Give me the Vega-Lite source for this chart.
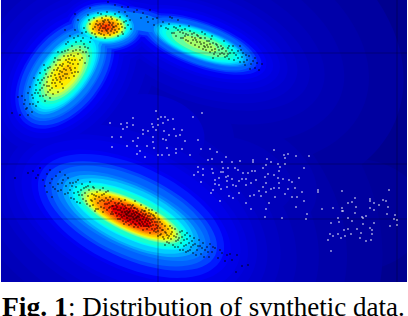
{"$schema":"https://vega.github.io/schema/vega-lite/v6.json","width":406,"height":282,"autosize":{"type":"none"},"padding":{"left":1,"top":0,"right":1,"bottom":34},"background":"white","view":{"fill":"#00008f","stroke":null},
"datasets":{
"density":[
{"x":355,"y":215,"a":70,"r":0.8,"t":0,"v":0.012},
{"x":131,"y":216,"a":260,"r":0.8,"t":25,"v":0.02},{"x":106,"y":27,"a":130,"r":0.9,"t":0,"v":0.02},{"x":65,"y":73,"a":210,"r":0.9,"t":-52,"v":0.02},{"x":200,"y":44,"a":210,"r":0.7,"t":20,"v":0.02},
{"x":131,"y":216,"a":225,"r":0.75,"t":25,"v":0.03},{"x":106,"y":27,"a":105,"r":0.9,"t":0,"v":0.03},{"x":65,"y":73,"a":170,"r":0.85,"t":-52,"v":0.03},{"x":200,"y":44,"a":175,"r":0.65,"t":20,"v":0.03},
{"x":131,"y":216,"a":197,"r":0.7,"t":25,"v":0.04},{"x":106,"y":27,"a":90,"r":0.85,"t":0,"v":0.04},{"x":65,"y":73,"a":145,"r":0.8,"t":-52,"v":0.04},{"x":200,"y":44,"a":150,"r":0.6,"t":20,"v":0.04},{"x":235,"y":175,"a":85,"r":0.65,"t":20,"v":0.04},
{"x":131,"y":216,"a":175,"r":0.65,"t":25,"v":0.05},{"x":106,"y":27,"a":78,"r":0.85,"t":0,"v":0.05},{"x":65,"y":73,"a":125,"r":0.8,"t":-52,"v":0.05},{"x":200,"y":44,"a":130,"r":0.55,"t":20,"v":0.05},{"x":140,"y":22,"a":70,"r":0.5,"t":12,"v":0.05},{"x":150,"y":133,"a":85,"r":0.7,"t":10,"v":0.05},{"x":235,"y":175,"a":60,"r":0.6,"t":20,"v":0.05},
{"x":131,"y":216,"a":158,"r":0.65,"t":25,"v":0.06},{"x":106,"y":27,"a":68,"r":0.8,"t":0,"v":0.06},{"x":65,"y":73,"a":110,"r":0.75,"t":-52,"v":0.06},{"x":200,"y":44,"a":115,"r":0.5,"t":20,"v":0.06},
{"x":131,"y":216,"a":145,"r":0.6,"t":25,"v":0.07},{"x":106,"y":27,"a":60,"r":0.8,"t":0,"v":0.07},{"x":65,"y":73,"a":98,"r":0.75,"t":-52,"v":0.07},{"x":200,"y":44,"a":102,"r":0.5,"t":20,"v":0.07},{"x":150,"y":133,"a":55,"r":0.7,"t":10,"v":0.07},
{"x":131,"y":216,"a":134,"r":0.6,"t":25,"v":0.08},{"x":106,"y":27,"a":54,"r":0.75,"t":0,"v":0.08},{"x":65,"y":73,"a":88,"r":0.7,"t":-52,"v":0.08},{"x":200,"y":44,"a":92,"r":0.45,"t":20,"v":0.08},{"x":140,"y":22,"a":55,"r":0.45,"t":12,"v":0.08},{"x":87,"y":46,"a":45,"r":0.7,"t":-50,"v":0.08},
{"x":131,"y":216,"a":125,"r":0.55,"t":25,"v":0.09},{"x":106,"y":27,"a":49,"r":0.75,"t":0,"v":0.09},{"x":65,"y":73,"a":80,"r":0.7,"t":-52,"v":0.09},{"x":200,"y":44,"a":84,"r":0.45,"t":20,"v":0.09},
{"x":131,"y":216,"a":117,"r":0.55,"t":25,"v":0.1},{"x":106,"y":27,"a":45,"r":0.7,"t":0,"v":0.1},{"x":65,"y":73,"a":74,"r":0.65,"t":-52,"v":0.1},{"x":200,"y":44,"a":77,"r":0.4,"t":20,"v":0.1},{"x":140,"y":22,"a":48,"r":0.4,"t":12,"v":0.1},
{"x":131,"y":216,"a":107,"r":0.5,"t":25,"v":0.115},{"x":106,"y":27,"a":41,"r":0.7,"t":0,"v":0.115},{"x":65,"y":73,"a":68,"r":0.65,"t":-52,"v":0.115},{"x":200,"y":44,"a":70,"r":0.4,"t":20,"v":0.115},
{"x":131,"y":216,"a":100,"r":0.5,"t":25,"v":0.13},{"x":106,"y":27,"a":38,"r":0.65,"t":0,"v":0.13},{"x":65,"y":73,"a":64,"r":0.6,"t":-52,"v":0.13},{"x":200,"y":44,"a":65,"r":0.35,"t":20,"v":0.13},{"x":140,"y":22,"a":40,"r":0.35,"t":12,"v":0.13},{"x":87,"y":46,"a":36,"r":0.6,"t":-50,"v":0.13},
{"x":131,"y":216,"a":93,"r":0.45,"t":25,"v":0.15},{"x":106,"y":27,"a":35,"r":0.65,"t":0,"v":0.15},{"x":65,"y":73,"a":60,"r":0.6,"t":-52,"v":0.15},{"x":200,"y":44,"a":60,"r":0.35,"t":20,"v":0.15},{"x":140,"y":22,"a":35,"r":0.35,"t":12,"v":0.15},
{"x":131,"y":216,"a":86,"r":0.45,"t":25,"v":0.175},{"x":106,"y":27,"a":33,"r":0.65,"t":0,"v":0.175},{"x":65,"y":73,"a":56,"r":0.55,"t":-52,"v":0.175},{"x":200,"y":44,"a":56,"r":0.35,"t":20,"v":0.175},
{"x":131,"y":216,"a":81,"r":0.4,"t":25,"v":0.2},{"x":106,"y":27,"a":31,"r":0.6,"t":0,"v":0.2},{"x":65,"y":73,"a":53,"r":0.55,"t":-52,"v":0.2},{"x":200,"y":44,"a":52,"r":0.3,"t":20,"v":0.2},{"x":140,"y":22,"a":28,"r":0.3,"t":12,"v":0.2},{"x":87,"y":46,"a":28,"r":0.55,"t":-50,"v":0.2},
{"x":131,"y":216,"a":74,"r":0.4,"t":25,"v":0.25},{"x":106,"y":27,"a":28,"r":0.6,"t":0,"v":0.25},{"x":65,"y":73,"a":49,"r":0.5,"t":-52,"v":0.25},{"x":200,"y":44,"a":49,"r":0.3,"t":20,"v":0.25},{"x":87,"y":46,"a":24,"r":0.5,"t":-50,"v":0.25},
{"x":131,"y":216,"a":68,"r":0.4,"t":25,"v":0.3},{"x":106,"y":27,"a":26,"r":0.6,"t":0,"v":0.3},{"x":65,"y":73,"a":46,"r":0.5,"t":-52,"v":0.3},{"x":200,"y":44,"a":46,"r":0.3,"t":20,"v":0.3},{"x":87,"y":46,"a":18,"r":0.5,"t":-50,"v":0.3},
{"x":131,"y":216,"a":64,"r":0.35,"t":25,"v":0.35},{"x":106,"y":27,"a":24,"r":0.6,"t":0,"v":0.35},{"x":65,"y":73,"a":43,"r":0.5,"t":-52,"v":0.35},{"x":200,"y":44,"a":43,"r":0.3,"t":20,"v":0.35},
{"x":131,"y":216,"a":62,"r":0.35,"t":25,"v":0.4},{"x":106,"y":27,"a":22.5,"r":0.6,"t":0,"v":0.4},{"x":65,"y":73,"a":40,"r":0.5,"t":-52,"v":0.4},{"x":200,"y":44,"a":40,"r":0.3,"t":20,"v":0.4},
{"x":131,"y":216,"a":58,"r":0.35,"t":25,"v":0.45},{"x":106,"y":27,"a":21,"r":0.6,"t":0,"v":0.45},{"x":65,"y":73,"a":37,"r":0.5,"t":-52,"v":0.45},{"x":200,"y":44,"a":36,"r":0.3,"t":20,"v":0.45},
{"x":131,"y":216,"a":55,"r":0.3,"t":25,"v":0.5},{"x":106,"y":27,"a":20,"r":0.6,"t":0,"v":0.5},{"x":65,"y":73,"a":33,"r":0.5,"t":-52,"v":0.5},{"x":200,"y":44,"a":30,"r":0.3,"t":20,"v":0.5},
{"x":131,"y":216,"a":52,"r":0.3,"t":25,"v":0.55},{"x":106,"y":27,"a":18.5,"r":0.6,"t":0,"v":0.55},{"x":65,"y":73,"a":29,"r":0.5,"t":-52,"v":0.55},{"x":200,"y":44,"a":18,"r":0.3,"t":20,"v":0.55},
{"x":131,"y":216,"a":49,"r":0.3,"t":25,"v":0.6},{"x":106,"y":27,"a":17,"r":0.6,"t":0,"v":0.6},{"x":65,"y":73,"a":25,"r":0.5,"t":-52,"v":0.6},
{"x":131,"y":216,"a":46,"r":0.3,"t":25,"v":0.65},{"x":106,"y":27,"a":15.5,"r":0.6,"t":0,"v":0.65},{"x":65,"y":73,"a":19,"r":0.5,"t":-52,"v":0.65},
{"x":131,"y":216,"a":43,"r":0.3,"t":25,"v":0.7},{"x":106,"y":27,"a":14,"r":0.6,"t":0,"v":0.7},{"x":65,"y":73,"a":10,"r":0.5,"t":-52,"v":0.7},
{"x":131,"y":216,"a":39,"r":0.3,"t":25,"v":0.75},{"x":106,"y":27,"a":12,"r":0.6,"t":0,"v":0.75},
{"x":131,"y":216,"a":35,"r":0.3,"t":25,"v":0.8},{"x":106,"y":27,"a":9,"r":0.6,"t":0,"v":0.8},
{"x":131,"y":216,"a":30,"r":0.3,"t":25,"v":0.85},{"x":106,"y":27,"a":5,"r":0.6,"t":0,"v":0.85},
{"x":131,"y":216,"a":22,"r":0.3,"t":25,"v":0.9},
{"x":131,"y":216,"a":12,"r":0.3,"t":25,"v":0.94}
],
"black":[
{"x":28,"y":173},{"x":33,"y":171},{"x":36,"y":178},{"x":40,"y":168},{"x":43,"y":180},{"x":47,"y":174},{"x":50,"y":170},{"x":50,"y":183},{"x":53,"y":187},{"x":47,"y":192},{"x":52,"y":197},{"x":56,"y":176},{"x":58,"y":184},{"x":60,"y":172},{"x":61,"y":190},{"x":63,"y":180},{"x":65,"y":194},{"x":15,"y":178},
{"x":66,"y":186},{"x":68,"y":178},{"x":70,"y":190},{"x":71,"y":198},{"x":73,"y":183},{"x":74,"y":193},{"x":76,"y":187},{"x":77,"y":202},{"x":78,"y":180},{"x":79,"y":195},{"x":81,"y":190},{"x":82,"y":184},{"x":83,"y":199},{"x":85,"y":193},{"x":86,"y":187},{"x":87,"y":204},{"x":88,"y":196},{"x":89,"y":190},{"x":90,"y":182},{"x":91,"y":200},
{"x":92,"y":194},{"x":93,"y":205},{"x":94,"y":188},{"x":95,"y":199},{"x":96,"y":209},{"x":97,"y":192},{"x":98,"y":203},{"x":99,"y":197},{"x":100,"y":190},{"x":101,"y":207},{"x":102,"y":200},{"x":103,"y":212},{"x":104,"y":194},{"x":105,"y":204},{"x":106,"y":198},{"x":107,"y":210},{"x":108,"y":191},{"x":109,"y":203},{"x":110,"y":197},{"x":111,"y":214},{"x":112,"y":206},{"x":113,"y":199},{"x":114,"y":209},
{"x":115,"y":203},{"x":116,"y":213},{"x":117,"y":207},{"x":118,"y":219},{"x":119,"y":199},{"x":120,"y":210},{"x":121,"y":215},{"x":122,"y":204},{"x":123,"y":221},{"x":124,"y":209},{"x":125,"y":200},{"x":126,"y":214},{"x":127,"y":218},{"x":128,"y":205},{"x":129,"y":225},{"x":130,"y":211},{"x":131,"y":216},{"x":132,"y":206},{"x":133,"y":222},{"x":134,"y":213},{"x":135,"y":201},{"x":136,"y":218},{"x":137,"y":209},{"x":138,"y":227},{"x":139,"y":214},{"x":140,"y":220},{"x":141,"y":205},{"x":142,"y":216},{"x":143,"y":230},{"x":144,"y":211},{"x":145,"y":222},{"x":146,"y":208},{"x":147,"y":218},{"x":148,"y":226},{"x":149,"y":213},{"x":150,"y":233},{"x":151,"y":220},{"x":152,"y":210},{"x":153,"y":225},{"x":154,"y":216},{"x":155,"y":229},{"x":156,"y":213},{"x":157,"y":222},{"x":158,"y":236},{"x":159,"y":219},{"x":160,"y":228},
{"x":118,"y":210},{"x":122,"y":212},{"x":126,"y":208},{"x":128,"y":213},{"x":130,"y":220},{"x":132,"y":214},{"x":134,"y":208},{"x":136,"y":212},{"x":137,"y":221},{"x":139,"y":217},{"x":141,"y":212},{"x":143,"y":219},{"x":145,"y":215},{"x":147,"y":224},{"x":149,"y":219},{"x":151,"y":226},{"x":153,"y":219},{"x":155,"y":222},{"x":157,"y":228},{"x":113,"y":206},{"x":111,"y":201},{"x":124,"y":216},{"x":133,"y":217},{"x":135,"y":224},{"x":140,"y":224},
{"x":127,"y":211},{"x":129,"y":216},{"x":131,"y":208},{"x":134,"y":219},{"x":138,"y":216},{"x":142,"y":222},{"x":144,"y":226},{"x":146,"y":214},{"x":148,"y":221},{"x":150,"y":216},{"x":152,"y":229},{"x":156,"y":225},{"x":160,"y":222},{"x":125,"y":206},{"x":121,"y":208},{"x":119,"y":214},{"x":116,"y":205},
{"x":161,"y":234},{"x":162,"y":224},{"x":163,"y":230},{"x":164,"y":239},{"x":165,"y":226},{"x":166,"y":233},{"x":167,"y":242},{"x":168,"y":229},{"x":169,"y":236},{"x":170,"y":226},{"x":171,"y":239},{"x":172,"y":232},{"x":173,"y":245},{"x":174,"y":236},{"x":175,"y":229},{"x":176,"y":241},{"x":177,"y":234},{"x":178,"y":247},{"x":179,"y":238},{"x":180,"y":232},{"x":181,"y":243},{"x":182,"y":237},{"x":183,"y":250},{"x":184,"y":240},{"x":185,"y":235},{"x":186,"y":245},{"x":187,"y":239},{"x":188,"y":251},{"x":189,"y":243},{"x":190,"y":236},
{"x":191,"y":247},{"x":192,"y":241},{"x":193,"y":253},{"x":195,"y":244},{"x":197,"y":250},{"x":199,"y":240},{"x":200,"y":246},{"x":201,"y":254},{"x":203,"y":243},{"x":205,"y":250},{"x":207,"y":247},{"x":209,"y":257},{"x":210,"y":244},{"x":212,"y":252},{"x":215,"y":248},{"x":218,"y":258},{"x":222,"y":253},{"x":227,"y":255},{"x":232,"y":260},{"x":237,"y":255},{"x":242,"y":266},{"x":248,"y":265},{"x":236,"y":272},
{"x":12,"y":113},{"x":20,"y":115},{"x":27,"y":108},{"x":32,"y":112},{"x":24,"y":104},{"x":30,"y":104},{"x":36,"y":106},{"x":28,"y":115},
{"x":18,"y":97},{"x":25,"y":100},{"x":33,"y":98},{"x":38,"y":102},{"x":43,"y":96},{"x":35,"y":93},{"x":28,"y":93},{"x":45,"y":101},{"x":40,"y":96},{"x":50,"y":98},
{"x":30,"y":87},{"x":36,"y":85},{"x":40,"y":90},{"x":44,"y":85},{"x":48,"y":92},{"x":52,"y":88},{"x":47,"y":82},{"x":56,"y":86},{"x":42,"y":80},{"x":58,"y":92},{"x":38,"y":80},{"x":53,"y":80},{"x":60,"y":82},{"x":63,"y":88},{"x":34,"y":78},
{"x":40,"y":73},{"x":45,"y":70},{"x":48,"y":77},{"x":52,"y":73},{"x":56,"y":78},{"x":60,"y":71},{"x":63,"y":76},{"x":66,"y":70},{"x":69,"y":78},{"x":72,"y":73},{"x":75,"y":68},{"x":50,"y":67},{"x":56,"y":65},{"x":44,"y":65},{"x":62,"y":66},{"x":68,"y":66},{"x":74,"y":76},{"x":78,"y":72},{"x":59,"y":74},{"x":65,"y":74},
{"x":55,"y":58},{"x":60,"y":60},{"x":64,"y":56},{"x":68,"y":62},{"x":71,"y":55},{"x":75,"y":60},{"x":78,"y":54},{"x":82,"y":58},{"x":85,"y":63},{"x":62,"y":52},{"x":68,"y":50},{"x":73,"y":51},{"x":80,"y":50},{"x":86,"y":52},{"x":89,"y":56},{"x":58,"y":52},
{"x":66,"y":44},{"x":72,"y":46},{"x":76,"y":42},{"x":80,"y":47},{"x":84,"y":44},{"x":88,"y":48},{"x":78,"y":36},{"x":83,"y":38},{"x":70,"y":36},{"x":90,"y":42},{"x":75,"y":30},{"x":82,"y":33},{"x":65,"y":30},
{"x":58,"y":68},{"x":62,"y":72},{"x":67,"y":74},{"x":70,"y":68},{"x":73,"y":64},{"x":66,"y":60},{"x":63,"y":64},{"x":54,"y":70},{"x":51,"y":76},{"x":57,"y":80},{"x":61,"y":79},{"x":47,"y":86},{"x":55,"y":75},{"x":69,"y":59},
{"x":78,"y":20},{"x":84,"y":28},{"x":88,"y":15},{"x":90,"y":24},{"x":92,"y":33},{"x":94,"y":18},{"x":95,"y":27},{"x":96,"y":37},{"x":97,"y":21},{"x":98,"y":13},{"x":99,"y":30},{"x":100,"y":24},{"x":101,"y":34},{"x":102,"y":18},{"x":103,"y":28},{"x":104,"y":22},{"x":105,"y":38},{"x":106,"y":26},{"x":107,"y":12},{"x":107,"y":31},{"x":108,"y":20},{"x":109,"y":25},{"x":110,"y":35},{"x":111,"y":17},{"x":112,"y":29},{"x":113,"y":23},{"x":114,"y":33},{"x":115,"y":14},{"x":116,"y":26},{"x":117,"y":20},{"x":118,"y":36},{"x":119,"y":29},{"x":120,"y":17},{"x":121,"y":24},{"x":122,"y":32},{"x":124,"y":22},{"x":125,"y":28},{"x":127,"y":16},{"x":128,"y":25},{"x":130,"y":20},{"x":100,"y":28},{"x":103,"y":24},{"x":106,"y":30},{"x":109,"y":22},{"x":112,"y":25},{"x":105,"y":20},{"x":108,"y":29},{"x":114,"y":27},{"x":98,"y":25},{"x":102,"y":31},
{"x":108,"y":2},{"x":115,"y":5},{"x":122,"y":7},{"x":128,"y":7},{"x":134,"y":12},{"x":137,"y":10},{"x":143,"y":13},{"x":147,"y":17},{"x":141,"y":18},{"x":150,"y":10},{"x":153,"y":19},{"x":157,"y":18},{"x":148,"y":22},{"x":125,"y":12},{"x":90,"y":8},{"x":75,"y":14},
{"x":163,"y":22},{"x":166,"y":28},{"x":169,"y":24},{"x":172,"y":33},{"x":174,"y":27},{"x":176,"y":36},{"x":178,"y":30},{"x":180,"y":26},{"x":181,"y":38},{"x":183,"y":33},{"x":185,"y":29},{"x":186,"y":40},{"x":188,"y":35},{"x":190,"y":31},{"x":191,"y":43},{"x":192,"y":37},{"x":194,"y":33},{"x":195,"y":45},{"x":196,"y":40},{"x":198,"y":36},{"x":199,"y":47},{"x":200,"y":42},{"x":201,"y":38},{"x":203,"y":49},{"x":204,"y":43},{"x":205,"y":38},{"x":206,"y":50},{"x":207,"y":45},{"x":209,"y":41},{"x":210,"y":52},{"x":211,"y":47},{"x":213,"y":43},{"x":214,"y":54},{"x":215,"y":49},{"x":217,"y":45},{"x":218,"y":56},{"x":219,"y":50},{"x":221,"y":46},{"x":222,"y":53},{"x":223,"y":48},{"x":225,"y":57},{"x":226,"y":51},{"x":228,"y":48},{"x":229,"y":59},{"x":230,"y":53},{"x":232,"y":50},{"x":234,"y":60},{"x":236,"y":55},{"x":238,"y":51},{"x":240,"y":62},{"x":242,"y":57},{"x":243,"y":53},{"x":245,"y":65},{"x":247,"y":60},{"x":249,"y":56},{"x":251,"y":64},{"x":253,"y":61},{"x":255,"y":68},{"x":257,"y":63},{"x":255,"y":58},{"x":259,"y":70},{"x":241,"y":50},{"x":233,"y":46},{"x":224,"y":41},{"x":212,"y":36},{"x":202,"y":32},{"x":189,"y":26},{"x":178,"y":20},{"x":170,"y":17},{"x":197,"y":42},{"x":208,"y":47},{"x":216,"y":44},{"x":192,"y":34},{"x":200,"y":38},{"x":205,"y":47},{"x":212,"y":50},{"x":220,"y":54},{"x":228,"y":54},{"x":186,"y":34},{"x":182,"y":30},{"x":174,"y":33},
{"x":137,"y":213},{"x":112,"y":212},{"x":149,"y":227},{"x":123,"y":205},{"x":143,"y":224},{"x":129,"y":209},{"x":155,"y":218},{"x":118,"y":204},{"x":136,"y":225},{"x":146,"y":220},{"x":127,"y":215},{"x":152,"y":222},{"x":133,"y":211},{"x":141,"y":226},{"x":120,"y":219},{"x":158,"y":226},{"x":130,"y":205},{"x":148,"y":216},{"x":125,"y":212},{"x":139,"y":223},{"x":154,"y":231},{"x":116,"y":209},{"x":144,"y":217},{"x":135,"y":215},{"x":128,"y":221},{"x":151,"y":214},{"x":122,"y":217},{"x":162,"y":230},{"x":138,"y":211},{"x":147,"y":229},{"x":113,"y":214},{"x":133,"y":205},{"x":142,"y":210},{"x":156,"y":232},{"x":126,"y":222},{"x":160,"y":235},{"x":109,"y":208},{"x":145,"y":211},{"x":131,"y":224},{"x":153,"y":215},{"x":119,"y":203},{"x":140,"y":215},{"x":167,"y":235},{"x":124,"y":224},{"x":150,"y":223},{"x":135,"y":208},{"x":165,"y":232},{"x":107,"y":204},{"x":143,"y":214},{"x":129,"y":212},{"x":158,"y":231},{"x":117,"y":216},{"x":146,"y":226},{"x":137,"y":217},{"x":171,"y":234},{"x":121,"y":201},{"x":149,"y":210},{"x":104,"y":201},{"x":134,"y":227},{"x":163,"y":237},
{"x":96,"y":196},{"x":72,"y":186},{"x":104,"y":208},{"x":84,"y":188},{"x":110,"y":207},{"x":62,"y":183},{"x":92,"y":201},{"x":78,"y":192},{"x":100,"y":201},{"x":68,"y":193},{"x":88,"y":186},{"x":106,"y":192},{"x":74,"y":199},{"x":55,"y":189},{"x":94,"y":195},{"x":82,"y":195},{"x":102,"y":195},{"x":45,"y":186},{"x":86,"y":201},{"x":65,"y":175},{"x":98,"y":209},{"x":76,"y":182},{"x":108,"y":200},{"x":58,"y":191},{"x":90,"y":206},{"x":70,"y":183},{"x":80,"y":203},{"x":38,"y":175},{"x":93,"y":187},{"x":52,"y":179},{"x":103,"y":188},{"x":95,"y":211},
{"x":178,"y":240},{"x":194,"y":238},{"x":169,"y":243},{"x":186,"y":252},{"x":175,"y":247},{"x":202,"y":248},{"x":182,"y":231},{"x":196,"y":255},{"x":165,"y":245},{"x":208,"y":252},{"x":172,"y":228},{"x":190,"y":250},{"x":180,"y":250},{"x":198,"y":246},{"x":168,"y":238},{"x":213,"y":247},{"x":184,"y":246},{"x":204,"y":257},{"x":220,"y":250},{"x":187,"y":233},{"x":176,"y":237},{"x":230,"y":254},{"x":193,"y":245},{"x":225,"y":261},
{"x":60,"y":77},{"x":70,"y":63},{"x":52,"y":83},{"x":75,"y":72},{"x":64,"y":69},{"x":46,"y":74},{"x":80,"y":60},{"x":57,"y":70},{"x":68,"y":56},{"x":42,"y":88},{"x":76,"y":50},{"x":54,"y":62},{"x":72,"y":60},{"x":48,"y":68},{"x":62,"y":84},{"x":83,"y":52},{"x":36,"y":90},{"x":66,"y":78},{"x":50,"y":90},{"x":78,"y":64},{"x":58,"y":60},{"x":44,"y":78},{"x":71,"y":70},{"x":85,"y":47},{"x":32,"y":95},{"x":55,"y":83},{"x":65,"y":51},{"x":40,"y":83},{"x":74,"y":56},{"x":60,"y":65},{"x":49,"y":86},{"x":81,"y":41},{"x":26,"y":109},{"x":38,"y":93},{"x":53,"y":94},{"x":22,"y":96},{"x":68,"y":42},{"x":46,"y":95},{"x":33,"y":104},{"x":74,"y":38},
{"x":105,"y":28},{"x":110,"y":23},{"x":101,"y":26},{"x":115,"y":30},{"x":96,"y":24},{"x":108,"y":33},{"x":112,"y":19},{"x":103,"y":21},{"x":118,"y":24},{"x":93,"y":29},{"x":106,"y":16},{"x":122,"y":27},{"x":99,"y":33},{"x":111,"y":31},{"x":104,"y":35},{"x":89,"y":20},{"x":117,"y":32},{"x":126,"y":21},{"x":95,"y":34},{"x":113,"y":27},{"x":86,"y":32},{"x":123,"y":34},{"x":101,"y":14},{"x":91,"y":38},{"x":119,"y":12},{"x":131,"y":29},
{"x":210,"y":44},{"x":197,"y":35},{"x":222,"y":49},{"x":185,"y":36},{"x":215,"y":52},{"x":204,"y":46},{"x":193,"y":40},{"x":227,"y":56},{"x":180,"y":32},{"x":207,"y":41},{"x":234,"y":53},{"x":188,"y":41},{"x":218,"y":47},{"x":201,"y":44},{"x":176,"y":28},{"x":224,"y":54},{"x":211,"y":39},{"x":195,"y":38},{"x":238,"y":58},{"x":168,"y":29},{"x":229,"y":46},{"x":205,"y":34},{"x":183,"y":38},{"x":246,"y":55},{"x":161,"y":26},{"x":244,"y":62},{"x":213,"y":58},{"x":250,"y":69},{"x":262,"y":64},{"x":154,"y":25},{"x":172,"y":18},{"x":240,"y":46}
],
"white":[
{"x":156,"y":111},{"x":161,"y":117},{"x":165,"y":117},{"x":173,"y":119},{"x":168,"y":120},{"x":158,"y":119},{"x":133,"y":118},{"x":193,"y":117},{"x":202,"y":113},{"x":110,"y":123},{"x":121,"y":124},{"x":127,"y":123},{"x":133,"y":125},{"x":152,"y":124},{"x":153,"y":127},{"x":158,"y":125},{"x":163,"y":123},{"x":123,"y":129},{"x":127,"y":127},{"x":143,"y":130},{"x":148,"y":131},{"x":156,"y":130},{"x":164,"y":131},{"x":174,"y":129},{"x":182,"y":130},{"x":143,"y":134},{"x":169,"y":135},{"x":180,"y":135},{"x":176,"y":136},{"x":112,"y":137},{"x":121,"y":137},{"x":138,"y":138},{"x":153,"y":137},{"x":163,"y":139},{"x":166,"y":140},{"x":185,"y":141},{"x":198,"y":140},{"x":133,"y":141},{"x":153,"y":142},{"x":137,"y":146},{"x":147,"y":146},{"x":127,"y":146},{"x":112,"y":147},{"x":154,"y":148},{"x":167,"y":148},{"x":176,"y":149},{"x":182,"y":149},{"x":201,"y":149},{"x":210,"y":149},{"x":140,"y":151},{"x":176,"y":153},{"x":217,"y":152},{"x":137,"y":154},{"x":145,"y":157},{"x":158,"y":155},{"x":162,"y":155},{"x":169,"y":155},{"x":190,"y":155},
{"x":274,"y":150},{"x":226,"y":157},{"x":212,"y":159},{"x":208,"y":160},{"x":222,"y":162},{"x":232,"y":162},{"x":240,"y":161},{"x":253,"y":160},{"x":253,"y":162},{"x":267,"y":159},{"x":285,"y":158},{"x":284,"y":155},{"x":288,"y":154},{"x":296,"y":156},{"x":309,"y":156},{"x":271,"y":162},{"x":198,"y":167},{"x":203,"y":169},{"x":212,"y":169},{"x":223,"y":168},{"x":228,"y":168},{"x":235,"y":168},{"x":238,"y":170},{"x":263,"y":168},{"x":266,"y":165},{"x":280,"y":167},{"x":278,"y":164},{"x":285,"y":164},{"x":304,"y":168},{"x":198,"y":172},{"x":213,"y":173},{"x":221,"y":172},{"x":223,"y":172},{"x":243,"y":173},{"x":248,"y":173},{"x":252,"y":171},{"x":255,"y":171},{"x":279,"y":171},{"x":268,"y":174},{"x":274,"y":175},{"x":194,"y":175},{"x":203,"y":175},{"x":228,"y":176},{"x":219,"y":178},{"x":226,"y":177},{"x":232,"y":179},{"x":242,"y":179},{"x":246,"y":179},{"x":256,"y":180},{"x":265,"y":177},{"x":278,"y":178},{"x":283,"y":179},{"x":289,"y":180},{"x":299,"y":178},{"x":201,"y":182},{"x":215,"y":180},{"x":227,"y":181},{"x":239,"y":181},{"x":251,"y":183},{"x":266,"y":183},{"x":279,"y":183},{"x":292,"y":182},{"x":215,"y":184},{"x":219,"y":185},{"x":227,"y":187},{"x":233,"y":185},{"x":236,"y":186},{"x":246,"y":185},{"x":263,"y":187},{"x":271,"y":189},{"x":274,"y":188},{"x":279,"y":188},{"x":288,"y":189},{"x":295,"y":188},{"x":213,"y":190},{"x":221,"y":189},{"x":211,"y":193},{"x":239,"y":193},{"x":250,"y":196},{"x":254,"y":195},{"x":259,"y":191},{"x":266,"y":192},{"x":285,"y":194},{"x":302,"y":192},{"x":229,"y":196},{"x":233,"y":198},{"x":261,"y":196},{"x":275,"y":197},{"x":292,"y":197},{"x":297,"y":197},{"x":220,"y":201},{"x":246,"y":203},{"x":269,"y":203},{"x":304,"y":201},{"x":251,"y":209},{"x":266,"y":209},{"x":296,"y":207},{"x":307,"y":214},{"x":265,"y":217},{"x":282,"y":218},{"x":306,"y":219},
{"x":318,"y":190},{"x":318,"y":192},{"x":342,"y":191},{"x":389,"y":190},{"x":355,"y":198},{"x":370,"y":199},{"x":370,"y":201},{"x":383,"y":200},{"x":386,"y":201},{"x":348,"y":203},{"x":352,"y":202},{"x":374,"y":203},{"x":379,"y":205},{"x":322,"y":209},{"x":333,"y":208},{"x":342,"y":208},{"x":356,"y":207},{"x":370,"y":208},{"x":388,"y":207},{"x":342,"y":211},{"x":343,"y":211},{"x":374,"y":210},{"x":355,"y":213},{"x":387,"y":214},{"x":395,"y":215},{"x":362,"y":217},{"x":366,"y":216},{"x":363,"y":218},{"x":338,"y":218},{"x":348,"y":218},{"x":394,"y":219},{"x":397,"y":220},{"x":339,"y":222},{"x":331,"y":223},{"x":352,"y":221},{"x":374,"y":223},{"x":363,"y":224},{"x":397,"y":225},{"x":390,"y":226},{"x":348,"y":229},{"x":344,"y":230},{"x":357,"y":229},{"x":370,"y":228},{"x":372,"y":230},{"x":338,"y":234},{"x":351,"y":234},{"x":361,"y":233},{"x":330,"y":234},{"x":333,"y":236},{"x":345,"y":236},{"x":372,"y":234},{"x":341,"y":238},{"x":360,"y":238},{"x":328,"y":240},{"x":366,"y":241},{"x":371,"y":240},{"x":331,"y":251}
]},
"layer":[
{"data":{"name":"density"},"mark":{"type":"point","filled":true,"opacity":1,"clip":true},
"encoding":{
"x":{"field":"x","type":"quantitative","scale":{"domain":[1,407]},"axis":null},
"y":{"field":"y","type":"quantitative","scale":{"domain":[282,0]},"axis":null},
"size":{"field":"a","type":"quantitative","scale":{"type":"pow","exponent":2,"domain":[0,100],"range":[0,40000]},"legend":null},
"angle":{"field":"t","type":"quantitative","scale":null},
"shape":{"field":"r","type":"nominal","legend":null,"scale":{"domain":[0.3,0.35,0.4,0.45,0.5,0.55,0.6,0.65,0.7,0.75,0.8,0.85,0.9],"range":[
"M1,0C1,0.166 0.552,0.3 0,0.3C-0.552,0.3 -1,0.166 -1,0C-1,-0.166 -0.552,-0.3 0,-0.3C0.552,-0.3 1,-0.166 1,0Z",
"M1,0C1,0.193 0.552,0.35 0,0.35C-0.552,0.35 -1,0.193 -1,0C-1,-0.193 -0.552,-0.35 0,-0.35C0.552,-0.35 1,-0.193 1,0Z",
"M1,0C1,0.221 0.552,0.4 0,0.4C-0.552,0.4 -1,0.221 -1,0C-1,-0.221 -0.552,-0.4 0,-0.4C0.552,-0.4 1,-0.221 1,0Z",
"M1,0C1,0.249 0.552,0.45 0,0.45C-0.552,0.45 -1,0.249 -1,0C-1,-0.249 -0.552,-0.45 0,-0.45C0.552,-0.45 1,-0.249 1,0Z",
"M1,0C1,0.276 0.552,0.5 0,0.5C-0.552,0.5 -1,0.276 -1,0C-1,-0.276 -0.552,-0.5 0,-0.5C0.552,-0.5 1,-0.276 1,0Z",
"M1,0C1,0.304 0.552,0.55 0,0.55C-0.552,0.55 -1,0.304 -1,0C-1,-0.304 -0.552,-0.55 0,-0.55C0.552,-0.55 1,-0.304 1,0Z",
"M1,0C1,0.331 0.552,0.6 0,0.6C-0.552,0.6 -1,0.331 -1,0C-1,-0.331 -0.552,-0.6 0,-0.6C0.552,-0.6 1,-0.331 1,0Z",
"M1,0C1,0.359 0.552,0.65 0,0.65C-0.552,0.65 -1,0.359 -1,0C-1,-0.359 -0.552,-0.65 0,-0.65C0.552,-0.65 1,-0.359 1,0Z",
"M1,0C1,0.387 0.552,0.7 0,0.7C-0.552,0.7 -1,0.387 -1,0C-1,-0.387 -0.552,-0.7 0,-0.7C0.552,-0.7 1,-0.387 1,0Z",
"M1,0C1,0.414 0.552,0.75 0,0.75C-0.552,0.75 -1,0.414 -1,0C-1,-0.414 -0.552,-0.75 0,-0.75C0.552,-0.75 1,-0.414 1,0Z",
"M1,0C1,0.442 0.552,0.8 0,0.8C-0.552,0.8 -1,0.442 -1,0C-1,-0.442 -0.552,-0.8 0,-0.8C0.552,-0.8 1,-0.442 1,0Z",
"M1,0C1,0.469 0.552,0.85 0,0.85C-0.552,0.85 -1,0.469 -1,0C-1,-0.469 -0.552,-0.85 0,-0.85C0.552,-0.85 1,-0.469 1,0Z",
"M1,0C1,0.497 0.552,0.9 0,0.9C-0.552,0.9 -1,0.497 -1,0C-1,-0.497 -0.552,-0.9 0,-0.9C0.552,-0.9 1,-0.497 1,0Z"]}},
"color":{"field":"v","type":"quantitative","legend":null,"scale":{"domain":[0,0.125,0.375,0.625,0.875,1],"range":["#00008f","#0000ff","#00ffff","#ffff00","#ff0000","#800000"]}}
}},
{"data":{"values":[{"x":158},{"x":397}]},"mark":{"type":"rule","color":"#000000","opacity":0.3,"strokeWidth":1},"encoding":{"x":{"field":"x","type":"quantitative","scale":{"domain":[1,407]},"axis":null}}},
{"data":{"values":[{"y":53},{"y":164},{"y":219}]},"mark":{"type":"rule","color":"#000000","opacity":0.25,"strokeWidth":1},"encoding":{"y":{"field":"y","type":"quantitative","scale":{"domain":[282,0]},"axis":null}}},
{"data":{"name":"black"},"mark":{"type":"square","color":"#000000","size":1.7,"opacity":0.85},"encoding":{"x":{"field":"x","type":"quantitative","scale":{"domain":[1,407]},"axis":null},"y":{"field":"y","type":"quantitative","scale":{"domain":[282,0]},"axis":null}}},
{"data":{"name":"white"},"mark":{"type":"square","color":"#ffffff","size":2,"opacity":0.85},"encoding":{"x":{"field":"x","type":"quantitative","scale":{"domain":[1,407]},"axis":null},"y":{"field":"y","type":"quantitative","scale":{"domain":[282,0]},"axis":null}}},
{"data":{"values":[{"x":2,"y":315.5,"label":"Fig. 1"}]},"mark":{"type":"text","font":"Liberation Serif","fontSize":27.5,"fontWeight":"bold","align":"left","baseline":"alphabetic","color":"#000000"},"encoding":{"x":{"field":"x","type":"quantitative","scale":{"domain":[1,407]},"axis":null},"y":{"field":"y","type":"quantitative","scale":{"domain":[282,0]},"axis":null},"text":{"field":"label"}}},
{"data":{"values":[{"x":68,"y":315.5,"label":": Distribution of synthetic data."}]},"mark":{"type":"text","font":"Liberation Serif","fontSize":27,"align":"left","baseline":"alphabetic","color":"#000000"},"encoding":{"x":{"field":"x","type":"quantitative","scale":{"domain":[1,407]},"axis":null},"y":{"field":"y","type":"quantitative","scale":{"domain":[282,0]},"axis":null},"text":{"field":"label"}}}
]}
